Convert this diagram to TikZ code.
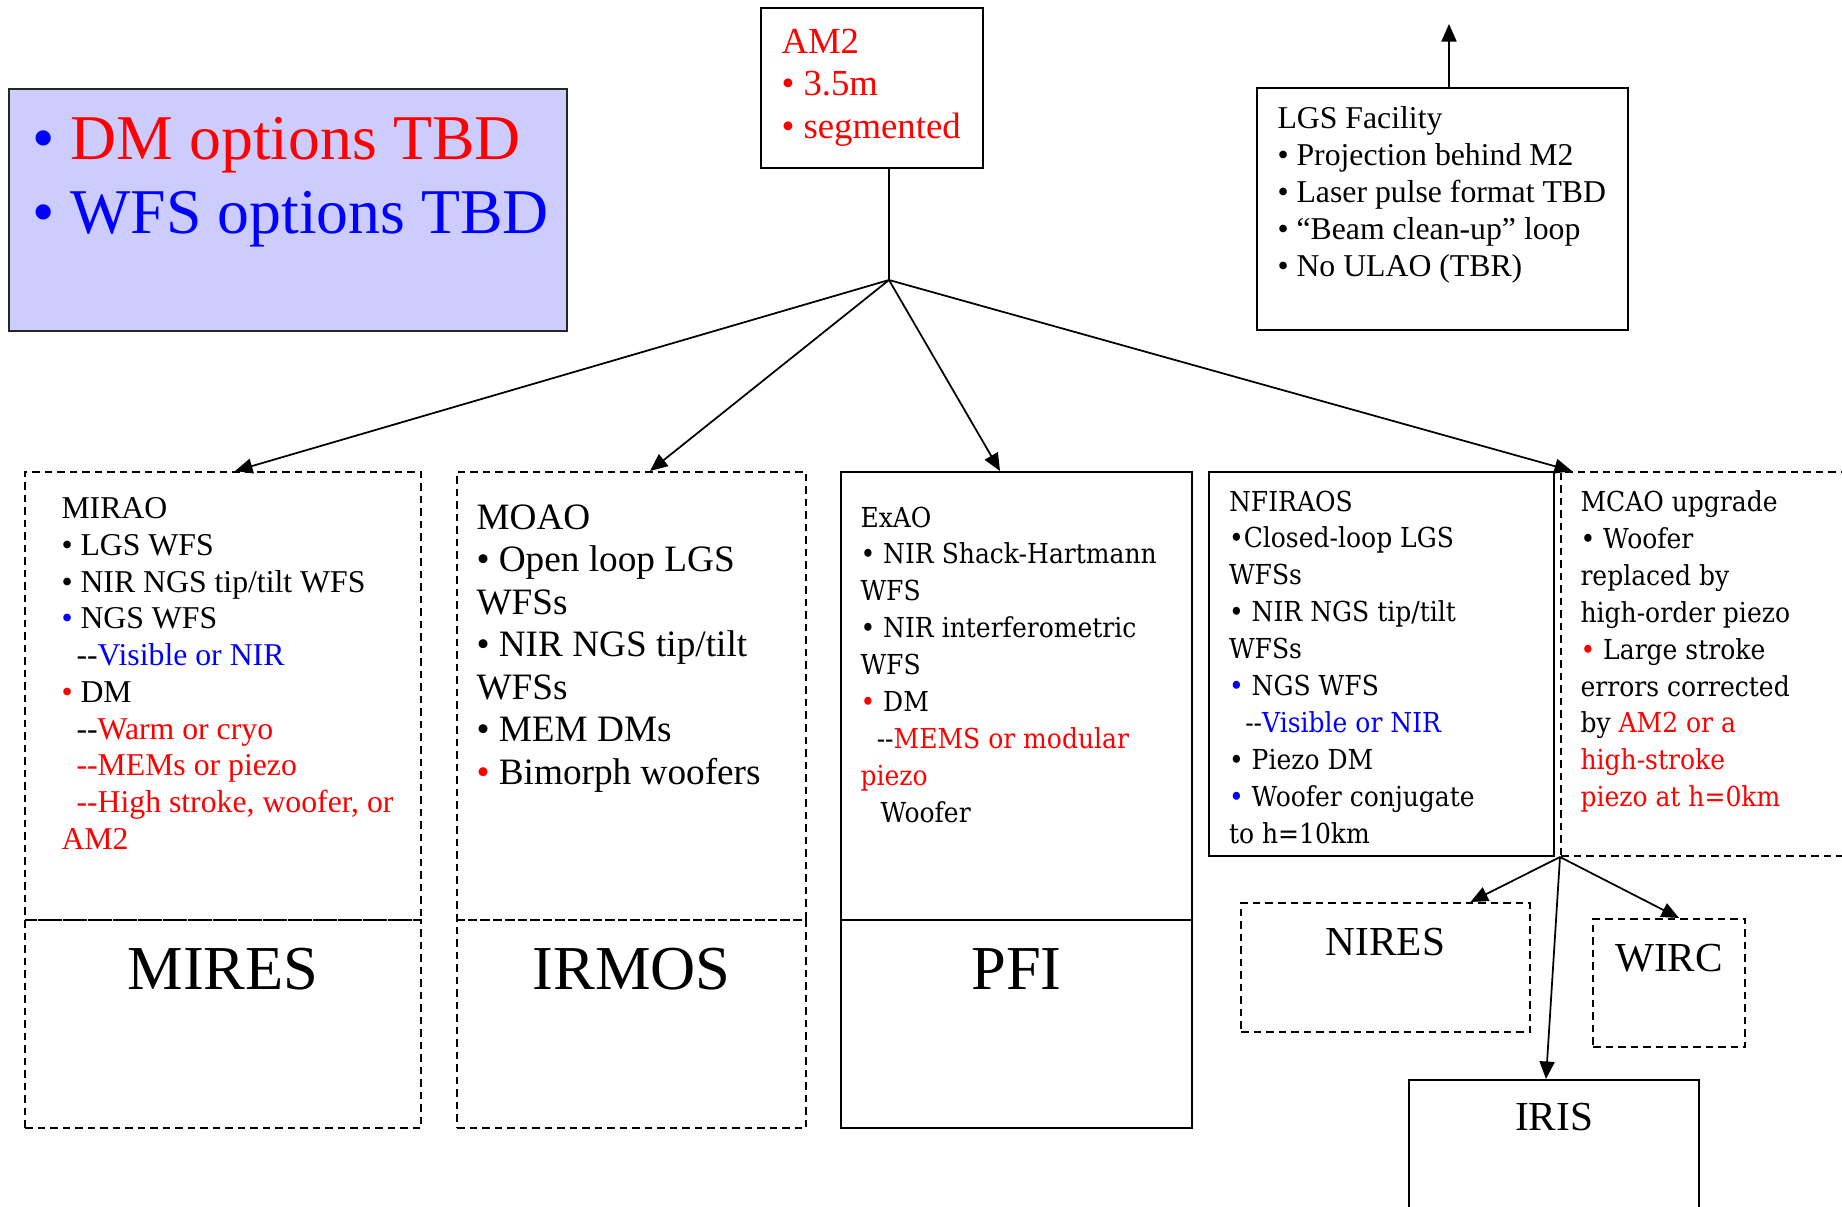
\documentclass[tikz,border=0pt]{standalone}
\usepackage{fontspec}
\setmainfont{Liberation Serif}
\newfontfamily\schoolfont[FakeStretch=0.91]{DejaVu Serif}
\usetikzlibrary{positioning,arrows.meta,calc,fit}
\definecolor{aoRed}{RGB}{255,0,0}
\definecolor{aoBlue}{RGB}{0,0,255}
\definecolor{tbdFill}{RGB}{204,204,255}
\tikzset{
  box/.style={rectangle, draw=black, line width=0.8pt, inner sep=0pt},
  dbox/.style={box, dash pattern=on 3pt off 2pt},
  tbdbox/.style={box, fill=tbdFill, draw=black!85},
  flow/.style={-{Triangle[length=7pt,width=6pt]}, draw=black, line width=0.7pt},
  blurb/.style={anchor=base west, inner sep=0pt},
  inst/.style={anchor=base, inner sep=0pt, font=\fontsize{25}{30}\selectfont},
  minst/.style={anchor=base, inner sep=0pt, font=\fontsize{16.5}{20}\selectfont},
}
\newcommand{\inred}[1]{\textcolor{aoRed}{#1}}
\newcommand{\inblue}[1]{\textcolor{aoBlue}{#1}}
\newcommand{\dsh}{-\kern0pt-}
\newcommand{\Lines}[1]{\begin{tabular}[t]{@{}l@{}}#1\end{tabular}}

\begin{document}
\begin{tikzpicture}[x=0.4pt, y=-0.4pt]
  \useasboundingbox (0,0) rectangle (1842,1207);
  \clip (0,0) rectangle (1842,1207);
  % top row
  \node[tbdbox, fit={(9,89) (567,331)}] (tbd) {};
  \node[box, fit={(761,8) (983,168)}] (am2) {};
  \node[box, fit={(1257,88) (1628,330)}] (lgs) {};
  \node[blurb, font={\fontsize{25.5}{29.6}\selectfont}] (tbdtxt) at (32,159)
    {\Lines{\inblue{•} \inred{DM options TBD}\\ \inblue{• WFS options TBD}}};
  \node[blurb, text=aoRed, font={\fontsize{14.7}{17}\selectfont}] (am2txt) at (781,53)
    {\Lines{AM2\\ • 3.5m\\ • segmented}};
  \node[blurb, font={\fontsize{12.7}{14.8}\selectfont}] (lgstxt) at (1277,128)
    {\Lines{LGS Facility\\ • Projection behind M2\\ • Laser pulse format TBD\\
      • “Beam clean-up” loop\\ • No ULAO (TBR)}};
  % AO systems
  \node[dbox, fit={(25,472) (421,920)}] (mirao) {};
  \node[dbox, fit={(25,920) (421,1128)}] (mires) {};
  \node[dbox, fit={(457,472) (806,920)}] (moao) {};
  \node[dbox, fit={(457,920) (806,1128)}] (irmos) {};
  \node[box, fit={(841,472) (1192,920)}] (exao) {};
  \node[box, fit={(841,920) (1192,1128)}] (pfi) {};
  \node[box, fit={(1209,472) (1554,856)}] (nfiraos) {};
  \node[dbox, fit={(1561,472) (1900,856)}] (mcao) {};
  \node[blurb, font={\fontsize{12.7}{14.7}\selectfont}] (miraotxt) at (61,518.5)
    {\Lines{MIRAO\\ • LGS WFS\\ • NIR NGS tip/tilt WFS\\ \inblue{•} NGS WFS\\
      \hspace*{6pt}\dsh\inblue{Visible or NIR}\\ \inred{•} DM\\
      \hspace*{6pt}\dsh\inred{Warm or cryo}\\ \hspace*{6pt}\inred{\dsh{}MEMs or piezo}\\
      \hspace*{6pt}\inred{\dsh{}High stroke, woofer, or}\\ \inred{AM2}}};
  \node[blurb, font={\fontsize{14.9}{17}\selectfont}] (moaotxt) at (476,529)
    {\Lines{MOAO\\ • Open loop LGS\\ WFSs\\ • NIR NGS tip/tilt\\ WFSs\\ • MEM DMs\\
      \inred{•} Bimorph woofers}};
  \node[blurb, font={\schoolfont\fontsize{11}{14.76}\selectfont}] (exaotxt) at (860,527)
    {\Lines{ExAO\\ • NIR Shack-Hartmann\\ WFS\\ • NIR interferometric\\ WFS\\
      \inred{•} DM\\ \hspace*{6.5pt}\dsh\inred{MEMS or modular}\\ \inred{piezo}\\
      \hspace*{8pt}Woofer}};
  \node[blurb, font={\schoolfont\fontsize{11}{14.76}\selectfont}] (nfiraostxt) at (1228.5,511)
    {\Lines{NFIRAOS\\ •Closed-loop LGS\\ WFSs\\ • NIR NGS tip/tilt\\ WFSs\\
      \inblue{•} NGS WFS\\ \hspace*{6.5pt}\dsh\inblue{Visible or NIR}\\ • Piezo DM\\
      \inblue{•} Woofer conjugate\\ to h=10km}};
  \node[blurb, font={\schoolfont\fontsize{11}{14.76}\selectfont}] (mcaotxt) at (1580,511.5)
    {\Lines{MCAO upgrade\\ • Woofer\\ replaced by\\ high-order piezo\\
      \inred{•} Large stroke\\ errors corrected\\ by \inred{AM2 or a}\\
      \inred{high-stroke}\\ \inred{piezo at h=0km}}};
  % instruments
  \node[inst] (miresl) at ($(mires.north)+(0,70)$) {MIRES};
  \node[inst] (irmosl) at ($(irmos.north)+(0,70)$) {IRMOS};
  \node[inst] (pfil) at ($(pfi.north)+(0,70)$) {PFI};
  \node[dbox, fit={(1241,903) (1530,1032)}] (nires) {};
  \node[dbox, fit={(1593,919) (1745,1047)}] (wirc) {};
  \node[box, fit={(1409,1080) (1699,1260)}] (iris) {};
  \node[minst] (niresl) at ($(nires.north)+(0,53)$) {NIRES};
  \node[minst] (wircl) at ($(wirc.north)+(0,53)$) {WIRC};
  \node[minst] (irisl) at ($(iris.north)+(0,51)$) {IRIS};
  % connectors
  \coordinate (hub) at (889,280);
  \coordinate (lgsup) at (1449,24);
  \draw[line width=0.7pt] (am2.south -| hub) -- (hub);
  \draw[flow] (hub) -- ($(mirao.north)+(12,0)$);
  \draw[flow] (hub) -- ($(moao.north)+(18.5,0)$);
  \draw[flow] (hub) -- ($(exao.north)+(-16.5,0)$);
  \draw[flow] (hub) -- ($(mcao.north west)+(12,0)$);
  \draw[flow] (mcao.south west) -- ($(nires.north)+(85,0)$);
  \draw[flow] (mcao.south west) -- ($(iris.north)+(-8,0)$);
  \draw[flow] (mcao.south west) -- ($(wirc.north)+(10,0)$);
  \draw[flow] (lgs.north -| lgsup) -- (lgsup);
\end{tikzpicture}
\end{document}
